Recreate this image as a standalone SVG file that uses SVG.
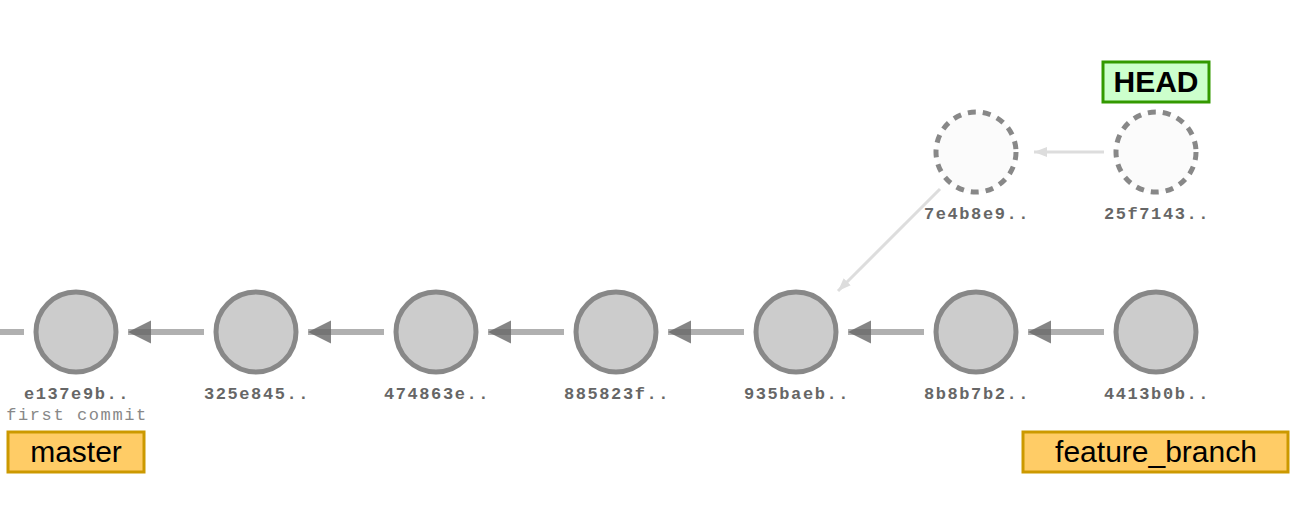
<svg xmlns="http://www.w3.org/2000/svg" width="1300" height="506" viewBox="0 0 1300 506">
<style>
.c{fill:#cccccc;stroke:#888888;stroke-width:5}
.d{fill:#fbfbfb;stroke:#888888;stroke-width:5;stroke-dasharray:8 7}
.h{font-family:"Liberation Mono",monospace;font-weight:bold;font-size:17px;letter-spacing:1.6px;fill:#666666;text-anchor:middle}
.m{font-family:"Liberation Mono",monospace;font-size:17px;letter-spacing:1.6px;fill:#888888;text-anchor:middle}
.l{stroke:#b0b0b0;stroke-width:6;fill:none}
.g{stroke:#dddddd;stroke-width:3;fill:none}
.b{fill:#ffcc66;stroke:#cc9900;stroke-width:3}
.bt{font-family:"Liberation Sans",Arial,sans-serif;font-size:30px;fill:#000;text-anchor:middle}
.hd{fill:#ccffcc;stroke:#339900;stroke-width:3}
</style>
<defs>
<marker id="ah" markerUnits="userSpaceOnUse" markerWidth="24" markerHeight="24" viewBox="0 0 24 24" refX="23" refY="12" orient="auto">
<path d="M23,12 L0,0.5 L0,23.5 Z" fill="#666666" fill-opacity="0.8"/>
</marker>
<marker id="al" markerUnits="userSpaceOnUse" markerWidth="14" markerHeight="12" viewBox="0 0 14 12" refX="13" refY="6" orient="auto">
<path d="M13,6 L0,1 L0,11 Z" fill="#dddddd"/>
</marker>
</defs>
<g id="connectors">
<line class="l" x1="0" y1="332" x2="24" y2="332"/>
<line class="l" x1="204" y1="332" x2="128" y2="332" marker-end="url(#ah)"/>
<line class="l" x1="384" y1="332" x2="308" y2="332" marker-end="url(#ah)"/>
<line class="l" x1="564" y1="332" x2="488" y2="332" marker-end="url(#ah)"/>
<line class="l" x1="744" y1="332" x2="668" y2="332" marker-end="url(#ah)"/>
<line class="l" x1="924" y1="332" x2="848" y2="332" marker-end="url(#ah)"/>
<line class="l" x1="1104" y1="332" x2="1028" y2="332" marker-end="url(#ah)"/>
<line class="g" x1="1104" y1="152" x2="1034" y2="152" marker-end="url(#al)"/>
<line class="g" x1="940" y1="189" x2="838" y2="291" marker-end="url(#al)"/>
</g>
<g id="e137e9b"><circle class="c" cx="76" cy="332" r="40"/><text class="h" x="77" y="399">e137e9b..</text><text class="m" x="77" y="420">first commit</text></g>
<g id="c325e845"><circle class="c" cx="256" cy="332" r="40"/><text class="h" x="257" y="399">325e845..</text></g>
<g id="c474863e"><circle class="c" cx="436" cy="332" r="40"/><text class="h" x="437" y="399">474863e..</text></g>
<g id="c885823f"><circle class="c" cx="616" cy="332" r="40"/><text class="h" x="617" y="399">885823f..</text></g>
<g id="c935baeb"><circle class="c" cx="796" cy="332" r="40"/><text class="h" x="797" y="399">935baeb..</text></g>
<g id="c8b8b7b2"><circle class="c" cx="976" cy="332" r="40"/><text class="h" x="977" y="399">8b8b7b2..</text></g>
<g id="c4413b0b"><circle class="c" cx="1156" cy="332" r="40"/><text class="h" x="1157" y="399">4413b0b..</text></g>
<g id="c7e4b8e9"><circle class="d" cx="976" cy="152" r="40"/><text class="h" x="977" y="219">7e4b8e9..</text></g>
<g id="c25f7143"><circle class="d" cx="1156" cy="152" r="40"/><text class="h" x="1157" y="219">25f7143..</text></g>
<g id="master"><rect class="b" x="8" y="432" width="136" height="40"/><text class="bt" x="76" y="462">master</text></g>
<g id="feature_branch"><rect class="b" x="1023" y="432" width="265" height="40"/><text class="bt" x="1156" y="462">feature_branch</text></g>
<g id="HEAD"><rect class="hd" x="1103" y="62" width="106" height="40"/><text class="bt" x="1156" y="92" font-weight="bold">HEAD</text></g>
</svg>
